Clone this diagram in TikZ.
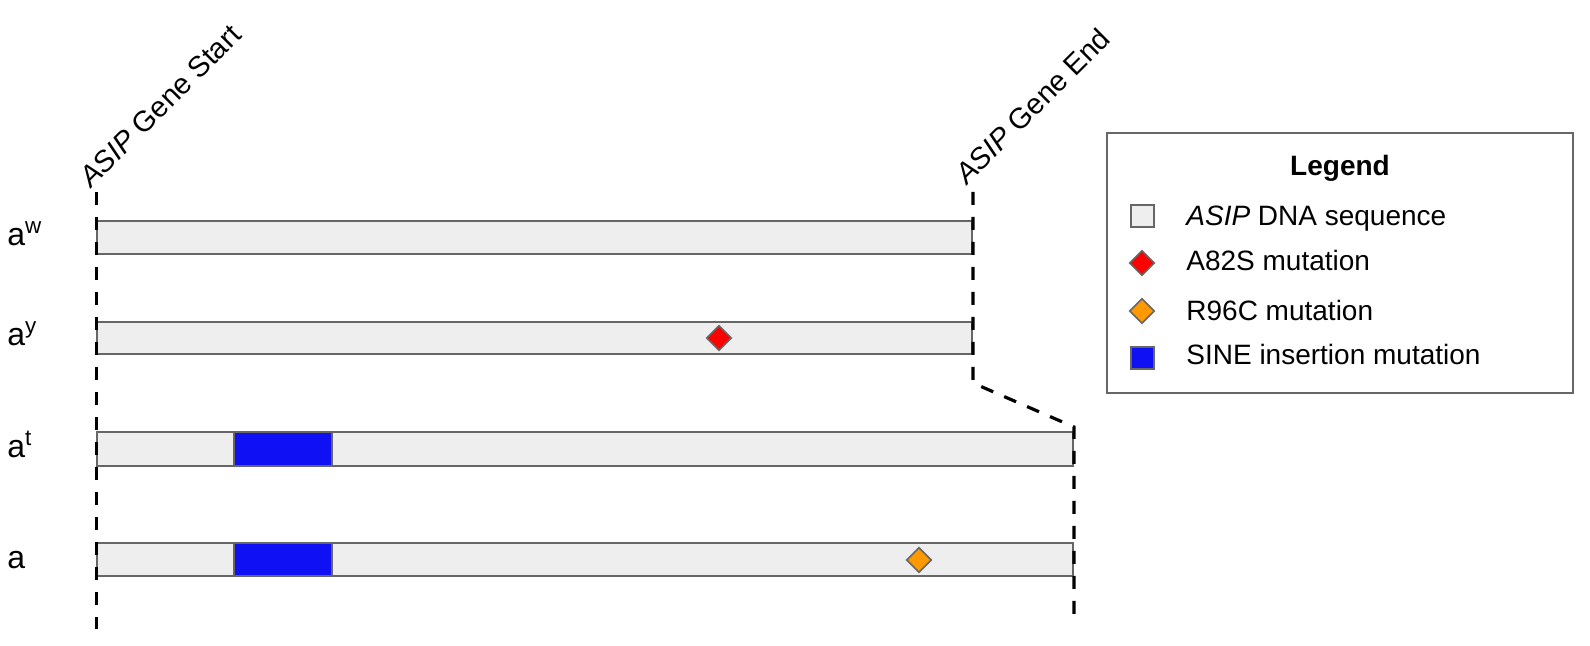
\documentclass[tikz,border=0pt]{standalone}
\usepackage{fontspec}
\setmainfont{Liberation Sans}
\usetikzlibrary{shapes.geometric}
\definecolor{seqgray}{HTML}{EEEEEE}
\definecolor{edgegray}{HTML}{666666}
\definecolor{sineblue}{HTML}{1010F5}
\definecolor{mutred}{HTML}{FF0000}
\definecolor{mutorange}{HTML}{FF9900}

\begin{document}
\begin{tikzpicture}[x=0.5pt, y=-0.5pt,
    every node/.style={font=\fontsize{14}{17}\selectfont, inner sep=0pt},
    seq/.style={draw=edgegray, fill=seqgray, line width=0.8pt},
    sine/.style={draw=edgegray, fill=sineblue, line width=0.8pt},
    snp/.style={diamond, draw=edgegray, line width=0.8pt, minimum size=12.5pt},
    allele/.style={anchor=base west, font=\fontsize{16}{19}\selectfont},
    guide/.style={line width=1.6pt, dash pattern=on 6.5pt off 6pt}]
      \useasboundingbox (0,0) rectangle (1590,646);

      % alleles
      \draw[seq] (97,221) rectangle (972,254);
      \draw[seq] (97,322) rectangle (972,354);
      \draw[seq] (97,432) rectangle (1073,466);
      \draw[seq] (97,543) rectangle (1073,576);
      \draw[sine] (234,432) rectangle (332,466);
      \draw[sine] (234,543) rectangle (332,576);
      \node[snp, fill=mutred]    (ay82)  at (719,338) {};
      \node[snp, fill=mutorange] (a96)   at (919,560) {};

      \node[allele] (lw) at (7,246) {a\textsuperscript{w}};
      \node[allele] (ly) at (7,346) {a\textsuperscript{y}};
      \node[allele] (lt) at (7,458) {a\textsuperscript{t}};
      \node[allele] (la) at (7,568) {a};

      % gene start / end
      \coordinate (s1) at (96.5,192);
      \coordinate (s2) at (96.5,629);
      \coordinate (e1) at (973,192);
      \coordinate (e2) at (973,383);
      \coordinate (e3) at (1074,427);
      \coordinate (e4) at (1074,621);
      \draw[guide] (s1)--(s2);
      \draw[guide] (e1)--(e2)--(e3)--(e4);
      \node[anchor=base west, rotate=45, font=\fontsize{14.5}{17}\selectfont] (start) at (91,189) {\textit{ASIP} Gene Start};
      \node[anchor=base west, rotate=45, font=\fontsize{14.5}{17}\selectfont] (end)   at (967,186) {\textit{ASIP} Gene End};

      % legend
      \draw[edgegray, line width=0.8pt] (1107,133) rectangle (1573,393);
      \node[anchor=base] (title) at (1340,176) {\textbf{Legend}};
      \draw[seq] (1131,205) rectangle (1154,227);
      \node[snp, fill=mutred]    (k82) at (1142,263) {};
      \node[snp, fill=mutorange] (k96) at (1142,311) {};
      \draw[sine] (1131,347) rectangle (1154,369);
      \node[anchor=base west] at (1186,226) {\textit{ASIP} DNA sequence};
      \node[anchor=base west] at (1186,271) {A82S mutation};
      \node[anchor=base west] at (1186,321) {R96C mutation};
      \node[anchor=base west] at (1186,365) {SINE insertion mutation};
    \end{tikzpicture}
\end{document}
